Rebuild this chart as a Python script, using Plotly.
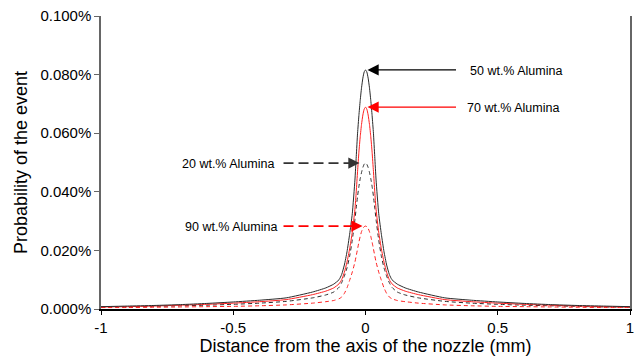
import plotly.graph_objects as go

# distance from nozzle axis (mm)
x_mm = [-1.0, -0.9, -0.8, -0.7, -0.6, -0.5, -0.4, -0.3, -0.2, -0.15, -0.12, -0.10, -0.09, -0.08,
        -0.07, -0.06, -0.05, -0.04, -0.035, -0.03, -0.025, -0.02, -0.015, -0.01, -0.005, 0.0,
        0.005, 0.01, 0.015, 0.02, 0.025, 0.03, 0.035, 0.04, 0.05, 0.06, 0.07, 0.08, 0.09, 0.10,
        0.12, 0.15, 0.2, 0.3, 0.4, 0.5, 0.6, 0.7, 0.8, 0.9, 1.0]

# probability of the event (%)
p50 = [0.0008, 0.0010, 0.0012, 0.0015, 0.0019, 0.0024, 0.0030, 0.0038, 0.0058, 0.0072, 0.0085,
       0.0100, 0.0118, 0.0150, 0.0195, 0.0255, 0.0325, 0.0440, 0.0520, 0.0600, 0.0660, 0.0712,
       0.0755, 0.0788, 0.0809, 0.0816, 0.0809, 0.0788, 0.0755, 0.0712, 0.0660, 0.0600, 0.0520,
       0.0440, 0.0325, 0.0255, 0.0195, 0.0150, 0.0118, 0.0100, 0.0085, 0.0072, 0.0058, 0.0038,
       0.0030, 0.0024, 0.0019, 0.0015, 0.0012, 0.0010, 0.0008]
p70 = [0.0007, 0.0008, 0.0010, 0.0013, 0.0016, 0.0020, 0.0025, 0.0032, 0.0049, 0.0061, 0.0072,
       0.0086, 0.0100, 0.0125, 0.0160, 0.0205, 0.0262, 0.0340, 0.0400, 0.0470, 0.0535, 0.0588,
       0.0630, 0.0662, 0.0682, 0.0689, 0.0682, 0.0662, 0.0630, 0.0588, 0.0535, 0.0470, 0.0400,
       0.0340, 0.0262, 0.0205, 0.0160, 0.0125, 0.0100, 0.0086, 0.0072, 0.0061, 0.0049, 0.0032,
       0.0025, 0.0020, 0.0016, 0.0013, 0.0010, 0.0008, 0.0007]
p20 = [0.0006, 0.0007, 0.0009, 0.0011, 0.0013, 0.0016, 0.0020, 0.0026, 0.0038, 0.0048, 0.0058,
       0.0074, 0.0090, 0.0112, 0.0140, 0.0180, 0.0235, 0.0305, 0.0345, 0.0385, 0.0418, 0.0445,
       0.0466, 0.0483, 0.0494, 0.0498, 0.0494, 0.0483, 0.0466, 0.0445, 0.0418, 0.0385, 0.0345,
       0.0305, 0.0235, 0.0180, 0.0140, 0.0112, 0.0090, 0.0074, 0.0058, 0.0048, 0.0038, 0.0026,
       0.0020, 0.0016, 0.0013, 0.0011, 0.0009, 0.0007, 0.0006]
p90 = [0.0005, 0.0005, 0.0006, 0.0007, 0.0008, 0.0009, 0.0011, 0.0014, 0.0020, 0.0025, 0.0029,
       0.0035, 0.0041, 0.0053, 0.0072, 0.0098, 0.0126, 0.0160, 0.0182, 0.0205, 0.0228, 0.0248,
       0.0264, 0.0275, 0.0281, 0.0283, 0.0281, 0.0275, 0.0264, 0.0248, 0.0228, 0.0205, 0.0182,
       0.0160, 0.0126, 0.0098, 0.0072, 0.0053, 0.0041, 0.0035, 0.0029, 0.0025, 0.0020, 0.0014,
       0.0011, 0.0009, 0.0008, 0.0007, 0.0006, 0.0005, 0.0005]

labels = ["50 wt.% Alumina", "70 wt.% Alumina", "20 wt.% Alumina", "90 wt.% Alumina"]
x_ticks = [-1, -0.5, 0, 0.5, 1]
x_ticktext = ["-1", "-0.5", "0", "0.5", "1"]
y_ticks = [0.0, 0.02, 0.04, 0.06, 0.08, 0.10]
y_ticktext = ["0.000%", "0.020%", "0.040%", "0.060%", "0.080%", "0.100%"]

FONT = "Arial, 'Liberation Sans', sans-serif"
BLACK = "#2b2b2b"
RED = "#ff2020"

series = [
    (p20, labels[2], BLACK, "4px,3px"),
    (p90, labels[3], RED, "4px,3px"),
    (p70, labels[1], RED, "solid"),
    (p50, labels[0], BLACK, "solid"),
]

fig = go.Figure()
for ys, name, col, dash in series:
    fig.add_trace(go.Scatter(x=x_mm, y=ys, name=name, mode="lines",
                             line=dict(color=col, width=1, dash=dash,
                                       shape="spline", smoothing=0.5)))

def peak(ys):
    i = max(range(len(ys)), key=lambda k: ys[k])
    return x_mm[i], ys[i]

annotations = []
shapes = []
# right-side labels (solid arrows pointing left to peak)
for ys, name, col, txt_shift, tail in [(p50, labels[0], "#000000", 102, 92),
                                       (p70, labels[1], "#ff0000", 99, 92)]:
    px, py = peak(ys)
    annotations.append(dict(x=px, y=py, xref="x", yref="y", text="", showarrow=True,
                            ax=tail, ay=0, axref="pixel", ayref="pixel",
                            arrowhead=2, arrowsize=1.6, arrowwidth=1.4, arrowcolor=col,
                            standoff=2))
    annotations.append(dict(x=px, y=py, xref="x", yref="y", text=name, showarrow=False,
                            xanchor="left", yanchor="middle", xshift=txt_shift, yshift=-1,
                            font=dict(family=FONT, size=12.5, color="#000000")))

# left-side labels (dashed arrows pointing right)
for ys, name, col, txt_shift, gap in [(p20, labels[2], "#333333", -90, 6),
                                      (p90, labels[3], "#ff0000", -87, 3)]:
    px, py = peak(ys)
    annotations.append(dict(x=px, y=py, xref="x", yref="y", text="", showarrow=True,
                            ax=-16, ay=0, axref="pixel", ayref="pixel",
                            arrowhead=2, arrowsize=1.6, arrowwidth=1.4, arrowcolor=col,
                            standoff=gap))
    shapes.append(dict(type="line", xref="x", yref="y", x0=px - 0.31, x1=px - 0.05,
                       y0=py, y1=py, line=dict(color=col, width=1.8, dash="10px,5px")))
    annotations.append(dict(x=px, y=py, xref="x", yref="y", text=name, showarrow=False,
                            xanchor="right", yanchor="middle", xshift=txt_shift, yshift=-1,
                            font=dict(family=FONT, size=12.5, color="#000000")))

fig.update_layout(
    width=635, height=363,
    margin=dict(l=101, r=5, t=16, b=54),
    paper_bgcolor="white", plot_bgcolor="white",
    showlegend=False,
    font=dict(family=FONT, size=15, color="#000000"),
    annotations=annotations, shapes=shapes,
)
fig.update_xaxes(range=[-1, 1], tickvals=x_ticks, ticktext=x_ticktext,
                 showgrid=False, zeroline=False, showline=True, linecolor="#000000",
                 linewidth=1.5, ticks="outside", ticklen=4, tickcolor="#000000",
                 tickfont=dict(family=FONT, size=15), ticklabeloverflow="allow",
                 automargin=False,
                 title=dict(text="Distance from the axis of the nozzle (mm)",
                            font=dict(family=FONT, size=18), standoff=4))
fig.update_yaxes(range=[0, 0.1], tickvals=y_ticks, ticktext=y_ticktext,
                 showgrid=False, zeroline=False, showline=True, linecolor="#666666",
                 linewidth=1.5, mirror=True, ticks="outside", ticklen=5, tickcolor="#666666",
                 tickfont=dict(family=FONT, size=15), automargin=False,
                 title=dict(text="Probability of the event",
                            font=dict(family=FONT, size=18), standoff=8))

fig.write_html("out.html", config={"displayModeBar": False},
               post_script="document.body.style.margin='0px';")
